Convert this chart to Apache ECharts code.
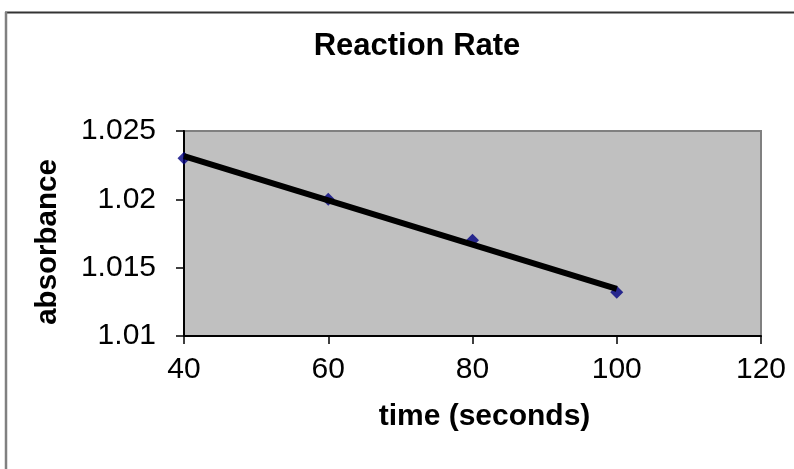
<!DOCTYPE html>
<html>
<head>
<meta charset="utf-8">
<script src="https://cdn.jsdelivr.net/npm/echarts@6/dist/echarts.min.js"></script>
<style>html,body{margin:0;padding:0;background:#fff;}#c{width:794px;height:469px;}</style>
</head>
<body>
<div id="c"></div>
<script>
const titleText = 'Reaction Rate';
const xName = 'time (seconds)';
const yName = 'absorbance';
const times = [40, 60, 80, 100];
const absorbance = [1.023, 1.020, 1.017, 1.0132];

// linear trendline (least squares) computed from the data
const n = times.length;
const mx = times.reduce((a, b) => a + b, 0) / n;
const my = absorbance.reduce((a, b) => a + b, 0) / n;
let sxy = 0, sxx = 0;
for (let i = 0; i < n; i++) { sxy += (times[i] - mx) * (absorbance[i] - my); sxx += (times[i] - mx) ** 2; }
const slope = sxy / sxx, intercept = my - slope * mx;
const xMinData = Math.min(...times), xMaxData = Math.max(...times);
const trend = [[xMinData, intercept + slope * xMinData], [xMaxData, intercept + slope * xMaxData]];

const font = 'Arial, "Liberation Sans", sans-serif';
const chart = echarts.init(document.getElementById('c'));
chart.setOption({
  animation: false,
  backgroundColor: '#fff',
  title: {
    text: titleText, left: 417, textAlign: 'center', top: 31, padding: 0,
    textStyle: { fontFamily: font, fontSize: 31, fontWeight: 'bold', color: '#000' }
  },
  grid: {
    left: 184, top: 131, right: 33, bottom: 133,
    show: true, backgroundColor: '#c0c0c0', borderColor: '#808080', borderWidth: 2
  },
  xAxis: {
    type: 'value', min: 40, max: 120, interval: 20,
    name: xName, nameLocation: 'middle', nameGap: 66,
    nameTextStyle: { fontFamily: font, fontSize: 30, fontWeight: 'bold', color: '#000', padding: [0, 0, 0, 24] },
    axisLine: { show: true, onZero: false, lineStyle: { color: '#000', width: 2 } },
    axisTick: { show: true, length: 8, lineStyle: { color: '#000', width: 1.5 } },
    axisLabel: { fontFamily: font, fontSize: 30, color: '#000', margin: 19 },
    splitLine: { show: false }
  },
  yAxis: {
    type: 'value', min: 1.01, max: 1.025, interval: 0.005,
    name: yName, nameLocation: 'middle', nameGap: 121, nameRotate: 90,
    nameTextStyle: { fontFamily: font, fontSize: 29.5, fontWeight: 'bold', color: '#000', padding: [0, 17, 0, 0] },
    axisLine: { show: true, onZero: false, lineStyle: { color: '#000', width: 2 } },
    axisTick: { show: true, length: 8, lineStyle: { color: '#000', width: 1.5 } },
    axisLabel: { fontFamily: font, fontSize: 30, color: '#000', margin: 28,
      formatter: v => String(parseFloat(v.toFixed(4))) },
    splitLine: { show: false }
  },
  series: [
    {
      type: 'scatter', symbol: 'diamond', symbolSize: 13,
      itemStyle: { color: '#000080' },
      data: times.map((t, i) => [t, absorbance[i]]), z: 2
    },
    {
      type: 'line', data: trend, symbol: 'none',
      lineStyle: { color: '#000', width: 6 }, z: 3
    }
  ],
  graphic: [
    { type: 'line', shape: { x1: 5, y1: 12.5, x2: 794, y2: 12.5 }, style: { stroke: '#333', lineWidth: 2 }, silent: true },
    { type: 'line', shape: { x1: 6, y1: 12, x2: 6, y2: 469 }, style: { stroke: '#808080', lineWidth: 2.5 }, silent: true }
  ]
});
</script>
</body>
</html>
